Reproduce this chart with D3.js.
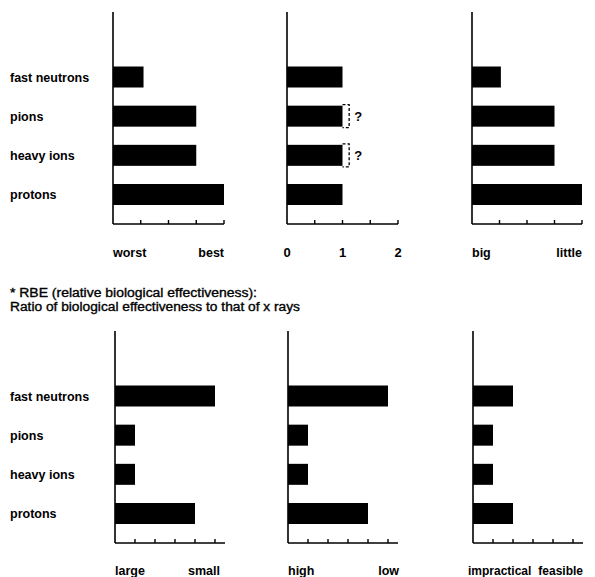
<!DOCTYPE html>
<html><head><meta charset="utf-8">
<script src="https://cdn.jsdelivr.net/npm/d3@7"></script>
<style>
body{margin:0;background:#fff}
svg{display:block}
text{font-family:"Liberation Sans",Arial,Helvetica,sans-serif;font-weight:bold;fill:#000}
</style>
</head><body>
<script>
// ---- data ----
const categories = ["fast neutrons", "pions", "heavy ions", "protons"];
// top row
const doseDistribution = [1.1, 3, 3, 4];      // worst .. best (0-4)
const rbeValues = [1, 1, 1, 1];               // RBE, 0-2
const rbeUncertainTo = [null, 1.12, 1.12, null]; // "?" upper bound
const oxygenEffect = [1.05, 3, 3, 4];          // big .. little (0-4)
// bottom row
const facilitySize = [5, 1, 1, 4];             // large .. small (0-5.5)
const facilityCost = [5, 1, 1, 4];             // high .. low (0-5.5)
const feasibility = [2, 1, 1, 2];              // impractical .. feasible (0-5.5)
// tick labels
const labelsDose = ["worst", "best"];
const labelsRbe = ["0", "1", "2"];
const labelsOxygen = ["big", "little"];
const labelsSize = ["large", "small"];
const labelsCost = ["high", "low"];
const labelsFeasible = ["impractical", "feasible"];
const noteLines = ["* RBE (relative biological effectiveness):",
                   "Ratio of biological effectiveness to that of x rays"];

// ---- drawing ----
const W = 595, H = 577;
const svg = d3.select("body").append("svg").attr("width", W).attr("height", H);

const rows = [
  {yTop: 12, yAxis: 224, yFirst: 77, yLast: 194.5, yLabel: 257},
  {yTop: 331, yAxis: 543, yFirst: 396, yLast: 513.5, yLabel: 575}
];

const panels = [
  {row: 0, x0: 113, x1: 224, domain: [0, 4], ticks: [1, 2, 3, 4], values: doseDistribution, labels: labelsDose, labelMode: "ends"},
  {row: 0, x0: 287, x1: 398, domain: [0, 2], ticks: [0.5, 1, 1.5, 2], values: rbeValues, labels: labelsRbe, labelMode: "numeric", labelVals: [0, 1, 2], uncertain: rbeUncertainTo},
  {row: 0, x0: 472, x1: 582, domain: [0, 4], ticks: [1, 2, 3, 4], values: oxygenEffect, labels: labelsOxygen, labelMode: "ends"},
  {row: 1, x0: 115, x1: 225, domain: [0, 5.5], ticks: [1, 2, 3, 4, 5], values: facilitySize, labels: labelsSize, labelMode: "ends", rightEnd: 220},
  {row: 1, x0: 288, x1: 398, domain: [0, 5.5], ticks: [1, 2, 3, 4, 5], values: facilityCost, labels: labelsCost, labelMode: "ends", rightEnd: 399},
  {row: 1, x0: 473, x1: 583, domain: [0, 5.5], ticks: [1, 2, 3, 4, 5], values: feasibility, labels: labelsFeasible, labelMode: "ends", leftStart: 468, rightEnd: 583, labelSize: 12}
];

const barH = 21;
const fontSize = 12.5;

rows.forEach(r => {
  r.y = d3.scalePoint().domain(categories).range([r.yFirst, r.yLast]);
  svg.append("g").selectAll("text").data(categories).join("text")
    .attr("x", 10).attr("y", d => r.y(d) + 4.5)
    .attr("font-size", fontSize).text(d => d);
});

panels.forEach(p => {
  const r = rows[p.row];
  const x = d3.scaleLinear().domain(p.domain).range([p.x0, p.x1]);
  const g = svg.append("g");

  // bars
  g.selectAll("rect").data(categories).join("rect")
    .attr("x", x(0)).attr("y", d => r.y(d) - barH / 2)
    .attr("width", (d, i) => x(p.values[i]) - x(0))
    .attr("height", barH).attr("fill", "#000");

  // uncertainty brackets
  if (p.uncertain) {
    categories.forEach((c, i) => {
      const u = p.uncertain[i];
      if (u == null) return;
      const xa = x(p.values[i]), xb = x(u);
      const top = r.y(c) - barH / 2 - 1, bot = r.y(c) + barH / 2 + 1;
      g.append("path")
        .attr("d", `M${xa},${top}H${xb}V${bot}H${xa}`)
        .attr("fill", "none").attr("stroke", "#000").attr("stroke-width", 1.3)
        .attr("stroke-dasharray", "3,2");
      g.append("text").attr("x", xb + 5).attr("y", r.y(c) + 5)
        .attr("font-size", 13).text("?");
    });
  }

  // axes
  g.append("line").attr("x1", x(0)).attr("x2", x(0)).attr("y1", r.yTop).attr("y2", r.yAxis)
    .attr("stroke", "#000").attr("stroke-width", 1.6);
  g.append("line").attr("x1", x(0)).attr("x2", p.x1).attr("y1", r.yAxis).attr("y2", r.yAxis)
    .attr("stroke", "#000").attr("stroke-width", 1.6);
  g.selectAll("line.tick").data(p.ticks).join("line").attr("class", "tick")
    .attr("x1", d => x(d)).attr("x2", d => x(d))
    .attr("y1", r.yAxis).attr("y2", r.yAxis - 4)
    .attr("stroke", "#000").attr("stroke-width", 1.4);

  // tick labels
  if (p.labelMode === "numeric") {
    g.selectAll("text.lab").data(p.labels).join("text").attr("class", "lab")
      .attr("x", (d, i) => x(p.labelVals[i])).attr("y", r.yLabel)
      .attr("text-anchor", "middle").attr("font-size", 13).text(d => d);
  } else {
    const fs = p.labelSize || fontSize;
    g.append("text").attr("x", p.leftStart != null ? p.leftStart : x(0)).attr("y", r.yLabel)
      .attr("font-size", fs).text(p.labels[0]);
    g.append("text").attr("x", p.rightEnd != null ? p.rightEnd : p.x1).attr("y", r.yLabel)
      .attr("text-anchor", "end").attr("font-size", fs).text(p.labels[1]);
  }
});

// note
const noteWidths = [247, 290];
svg.append("g").selectAll("text").data(noteLines).join("text")
  .attr("x", 10).attr("y", (d, i) => 297 + i * 14)
  .attr("font-size", 12.5).style("font-weight", "normal")
  .attr("stroke", "#000").attr("stroke-width", 0.35)
  .attr("textLength", (d, i) => noteWidths[i]).attr("lengthAdjust", "spacingAndGlyphs")
  .text(d => d);
</script>
</body></html>
